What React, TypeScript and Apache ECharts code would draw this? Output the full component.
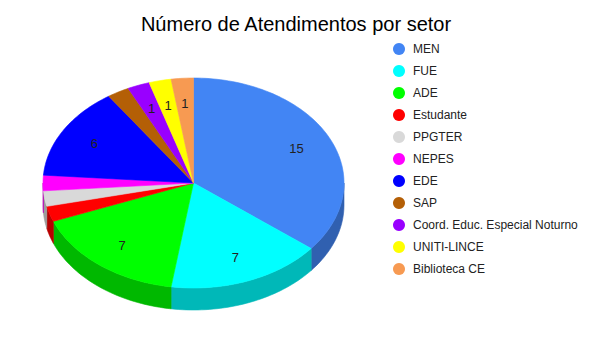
import React, { useEffect, useRef } from "react";
import * as echarts from "echarts";

const categories = [
  "MEN",
  "FUE",
  "ADE",
  "Estudante",
  "PPGTER",
  "NEPES",
  "EDE",
  "SAP",
  "Coord. Educ. Especial Noturno",
  "UNITI-LINCE",
  "Biblioteca CE",
];
const values = [15, 7, 7, 1, 1, 1, 6, 1, 1, 1, 1];
const colors = [
  "#4285f4",
  "#00ffff",
  "#00ff00",
  "#ff0000",
  "#d9d9d9",
  "#ff00ff",
  "#0000ff",
  "#b45f06",
  "#9900ff",
  "#ffff00",
  "#f79a52",
];
const labeledCategories = ["MEN", "FUE", "ADE", "EDE", "Coord. Educ. Especial Noturno", "UNITI-LINCE", "Biblioteca CE"];

const CX = 193.5;
const CY = 183;
const RX = 150.5;
const RY = 105;
const DEPTH = 22;
const LABEL_F = 0.76;

function darken(hex: string, f: number) {
  const n = parseInt(hex.slice(1), 16);
  const r = Math.round(((n >> 16) & 255) * f);
  const g = Math.round(((n >> 8) & 255) * f);
  const b = Math.round((n & 255) * f);
  return `rgb(${r},${g},${b})`;
}

export default function App() {
  const ref = useRef<HTMLDivElement>(null);
  useEffect(() => {
    document.body.style.margin = "0";
    const chart = echarts.init(ref.current!, null, { renderer: "svg" });
    const total = values.reduce((a, b) => a + b, 0);
    const starts = values.map((_, i) => values.slice(0, i).reduce((a, b) => a + b, 0));
    const pt = (a: number, dy = 0, f = 1) => [CX + RX * f * Math.sin(a), CY - RY * f * Math.cos(a) + dy];
    const arc = (a0: number, a1: number, dy = 0) => {
      const n = Math.max(2, Math.ceil((a1 - a0) / (Math.PI / 120)));
      const pts: number[][] = [];
      for (let k = 0; k <= n; k++) pts.push(pt(a0 + ((a1 - a0) * k) / n, dy));
      return pts;
    };

    const renderItem = (params: any, api: any) => {
      const i = params.dataIndex;
      const v = api.value(0);
      const a0 = (starts[i] / total) * Math.PI * 2;
      const a1 = ((starts[i] + v) / total) * Math.PI * 2;
      const color = colors[i];
      const children: any[] = [];
      const s0 = Math.max(a0, Math.PI / 2);
      const s1 = Math.min(a1, (Math.PI * 3) / 2);
      if (s1 > s0) {
        const topEdge = arc(s0, s1);
        const botEdge = arc(s0, s1, DEPTH).reverse();
        const side = darken(color, 0.72);
        children.push({
          type: "polygon",
          z2: 0,
          shape: { points: topEdge.concat(botEdge) },
          style: { fill: side, stroke: side, lineWidth: 0.6 },
        });
      }
      children.push({
        type: "polygon",
        z2: 1,
        shape: { points: [[CX, CY]].concat(arc(a0, a1)) },
        style: { fill: color, stroke: color, lineWidth: 0.6 },
      });
      if (labeledCategories.indexOf(categories[i]) >= 0) {
        const mid = (a0 + a1) / 2;
        const p = pt(mid, 0, LABEL_F);
        children.push({
          type: "text",
          z2: 2,
          x: p[0],
          y: p[1],
          style: {
            text: String(v),
            fill: "#222222",
            font: "13px Arial, 'Liberation Sans', sans-serif",
            align: "center",
            verticalAlign: "middle",
          },
        });
      }
      return { type: "group", children };
    };

    chart.setOption({
      animation: false,
      color: colors,
      title: {
        text: "Número de Atendimentos por setor",
        left: "center",
        top: 9,
        textStyle: {
          fontSize: 20,
          fontWeight: "normal",
          color: "#000000",
          fontFamily: "Arial, 'Liberation Sans', sans-serif",
        },
      },
      legend: {
        data: categories,
        orient: "vertical",
        left: 393,
        top: 43,
        padding: 0,
        icon: "circle",
        itemWidth: 12,
        itemHeight: 12,
        itemGap: 10,
        selectedMode: false,
        textStyle: {
          fontSize: 12,
          color: "#222222",
          fontFamily: "Arial, 'Liberation Sans', sans-serif",
          padding: [0, 0, 0, 3],
        },
      },
      series: [
        {
          type: "pie",
          radius: [0, 0],
          center: [-50, -50],
          silent: true,
          label: { show: false },
          labelLine: { show: false },
          data: categories.map((c, i) => ({ name: c, value: values[i] })),
        },
        {
          type: "custom",
          coordinateSystem: "none",
          silent: true,
          renderItem,
          data: values.map((v, i) => ({ name: categories[i], value: v })),
        },
      ],
    });
    return () => chart.dispose();
  }, []);
  return <div ref={ref} style={{ width: 592, height: 353 }} />;
}
